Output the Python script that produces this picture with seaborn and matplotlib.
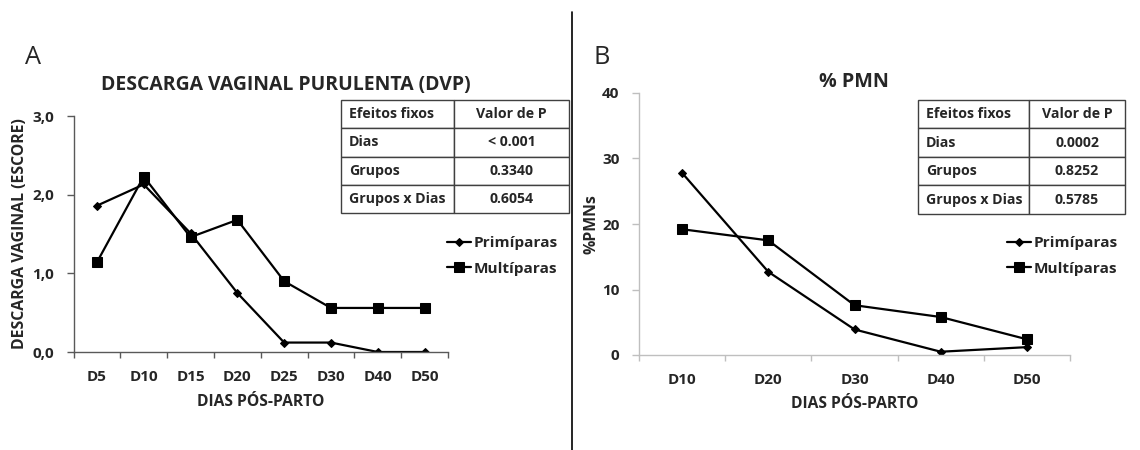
import matplotlib
matplotlib.use('Agg')
import matplotlib.pyplot as plt
from matplotlib import font_manager
from matplotlib.lines import Line2D
import seaborn as sns
import pandas as pd

# dados
dias_a = ['D5', 'D10', 'D15', 'D20', 'D25', 'D30', 'D40', 'D50']
prim_a = [1.86, 2.13, 1.51, 0.75, 0.12, 0.12, 0.0, 0.0]
mult_a = [1.14, 2.23, 1.46, 1.68, 0.90, 0.56, 0.56, 0.56]

dias_b = ['D10', 'D20', 'D30', 'D40', 'D50']
prim_b = [27.8, 12.7, 3.9, 0.5, 1.2]
mult_b = [19.2, 17.5, 7.6, 5.8, 2.4]

efeitos = ['Dias', 'Grupos', 'Grupos x Dias']
pval_a = ['< 0.001', '0.3340', '0.6054']
pval_b = ['0.0002', '0.8252', '0.5785']

sns.set_style('ticks')

# procura uma família que tenha de fato o arquivo em negrito
familia = 'DejaVu Sans'
for f in ['Open Sans', 'Lato', 'Roboto', 'Liberation Sans']:
    try:
        path = font_manager.findfont(font_manager.FontProperties(family=f, weight='bold'),
                                     fallback_to_default=False)
    except Exception:
        continue
    if 'bold' in path.lower():
        familia = f
        break

plt.rcParams['font.family'] = [familia, 'DejaVu Sans']
plt.rcParams['font.weight'] = 'bold'

W, H = 1140, 450
fig = plt.figure(figsize=(W / 100, H / 100), dpi=100)
renderer = fig.canvas.get_renderer()


def fit_size(s, width_px, weight='bold'):
    # tamanho de fonte para que o texto tenha a largura medida na figura original
    t = fig.text(0, 0, s, fontsize=10, fontweight=weight)
    w = t.get_window_extent(renderer).width
    t.remove()
    return 10 * width_px / w


fs_tick = fit_size('0,0', 22)
fs_label = fit_size('DIAS PÓS-PARTO', 127)
fs_ylab = fit_size('DESCARGA VAGINAL (ESCORE)', 231)
fs_leg = fit_size('Primíparas', 84)
fs_tab = fit_size('Efeitos fixos', 85)
fs_tit_a = fit_size('DESCARGA VAGINAL PURULENTA (DVP)', 369)
fs_tit_b = fit_size('% PMN', 70)
fs_letra = fit_size('A', 16, 'normal')


def px_rect(x0, y0, x1, y1):
    return [x0 / W, 1 - y1 / H, (x1 - x0) / W, (y1 - y0) / H]


def painel(rect, dias, prim, mult, ylim, yticks, ylabels, ylabel, spine_col):
    ax = fig.add_axes(rect)
    df = pd.DataFrame({'dia': dias, 'prim': prim, 'mult': mult})
    sns.lineplot(data=df, x='dia', y='prim', ax=ax, color='black', lw=1.6,
                 marker='D', markersize=4, markeredgecolor='black', label='Primíparas')
    sns.lineplot(data=df, x='dia', y='mult', ax=ax, color='black', lw=1.6,
                 marker='s', markersize=6.5, markeredgecolor='black', label='Multíparas')
    n = len(dias)
    ax.set_xlim(-0.5, n - 0.5)
    ax.set_ylim(*ylim)
    ax.set_yticks(yticks)
    ax.set_yticklabels(ylabels)
    ax.set_xticks(range(n))
    ax.set_xticklabels(dias)
    ax.set_xticks([i - 0.5 for i in range(n + 1)], minor=True)
    ax.tick_params(axis='x', which='major', length=0, pad=13, labelsize=fs_tick)
    ax.tick_params(axis='x', which='minor', length=4, color=spine_col, width=1)
    ax.tick_params(axis='y', length=5, color=spine_col, width=1, pad=9, labelsize=fs_tick)
    for s in ['top', 'right']:
        ax.spines[s].set_visible(False)
    for s in ['left', 'bottom']:
        ax.spines[s].set_color(spine_col)
        ax.spines[s].set_linewidth(1)
    ax.set_xlabel('DIAS PÓS-PARTO', fontsize=fs_label, fontweight='bold', va='center')
    ax.set_ylabel(ylabel, fontsize=fs_ylab, fontweight='bold', va='center')
    return ax


ax_a = painel(px_rect(73.5, 116, 448, 352), dias_a, prim_a, mult_a, (0, 3),
              [0, 1, 2, 3], ['0,0', '1,0', '2,0', '3,0'],
              'DESCARGA VAGINAL (ESCORE)', '#595959')
ax_a.xaxis.set_label_coords(0.5, (352 - 402) / 236)
ax_a.yaxis.set_label_coords((20 - 73.5) / 374.5, 0.5)

ax_b = painel(px_rect(639, 93, 1070, 355), dias_b, prim_b, mult_b, (0, 40),
              [0, 10, 20, 30, 40], ['0', '10', '20', '30', '40'],
              '%PMNs', '#BFBFBF')
ax_b.xaxis.set_label_coords(0.5, (355 - 404) / 262)
ax_b.yaxis.set_label_coords((591 - 639) / 431, 0.5)

# legendas
for ax, x0 in [(ax_a, 447), (ax_b, 1007)]:
    ax.legend(loc='upper left', bbox_to_anchor=(x0 / W, 1 - 236 / H),
              bbox_transform=fig.transFigure, frameon=False, fontsize=fs_leg,
              handlelength=1.55, handletextpad=0.15, borderpad=0,
              borderaxespad=0, labelspacing=0.75)


# tabelas de efeitos fixos
def tabela(rect, valores, col1):
    tax = fig.add_axes(rect)
    tax.axis('off')
    linhas = [['Efeitos fixos', 'Valor de P']] + [[e, v] for e, v in zip(efeitos, valores)]
    tb = tax.table(cellText=linhas, colWidths=[col1, 1 - col1], bbox=[0, 0, 1, 1])
    tb.auto_set_font_size(False)
    tb.set_fontsize(fs_tab)
    for (r, c), cell in tb.get_celld().items():
        cell.set_edgecolor('#404040')
        cell.set_linewidth(1)
        cell.set_facecolor('white')
        cell.get_text().set_fontweight('bold')
        cell.PAD = 0.07
        if c == 1:
            cell.get_text().set_ha('center')
            cell._loc = 'center'
        else:
            cell._loc = 'left'
            cell.get_text().set_ha('left')


tabela(px_rect(341, 100, 569, 213), pval_a, (454 - 341) / 228)
tabela(px_rect(918, 100, 1125, 214), pval_b, (1029 - 918) / 207)

# títulos e letras dos painéis
fig.text(286 / W, 1 - 85 / H, 'DESCARGA VAGINAL PURULENTA (DVP)', ha='center', va='center',
         fontsize=fs_tit_a, fontweight='bold')
fig.text(854 / W, 1 - 82 / H, '% PMN', ha='center', va='center',
         fontsize=fs_tit_b, fontweight='bold')
fig.text(33 / W, 1 - 57 / H, 'A', ha='center', va='center', fontsize=fs_letra, fontweight='normal')
fig.text(602 / W, 1 - 57 / H, 'B', ha='center', va='center', fontsize=fs_letra, fontweight='normal')

# linha separadora
fig.add_artist(Line2D([571.7 / W, 571.7 / W], [0, 1 - 12 / H], color='black', lw=1.2))

fig.savefig('out.png', dpi=100)
